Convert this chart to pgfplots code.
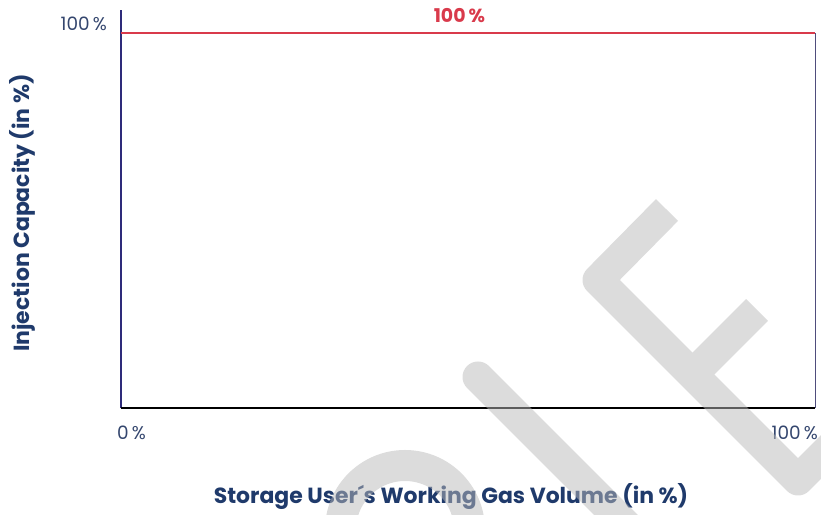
\documentclass[border=0pt]{standalone}
\usepackage{fontspec}
\setmainfont{Poppins}
\usepackage{pgfplots}
\pgfplotsset{compat=1.18}
\definecolor{navy}{HTML}{1F3A6B}
\definecolor{ticknavy}{HTML}{34466E}
\definecolor{redline}{HTML}{D93A4B}
\definecolor{axnavy}{HTML}{2E2B7A}
\definecolor{wm}{HTML}{B9B9B9}
\begin{document}
\begin{tikzpicture}[x=1bp,y=1bp]
\useasboundingbox (0,0) rectangle (821,515);
\begin{axis}[
  at={(121bp,107bp)}, anchor=south west,
  scale only axis, width=694bp, height=398bp,
  xmin=0, xmax=100, ymin=0, ymax=106.13,
  hide axis, clip=false,
]
\draw[axnavy, line width=1.8bp] (axis cs:0,0) -- (axis cs:0,106.13);
\draw[axnavy!60!gray, line width=1bp] (axis cs:100,0) -- (axis cs:100,100);
\addplot[redline, line width=2.8bp] coordinates {(0,100) (100,100)};
\draw[black, line width=1.8bp] (axis cs:0,0) -- (axis cs:100,0);
\end{axis}
% labels
\node[inner sep=0, text=redline, font=\fontsize{19}{22}\selectfont\bfseries] at (459.5,499) {100\,\%};
\node[inner sep=0, anchor=east, text=ticknavy, font=\fontsize{18.5}{22}\selectfont] at (107,491) {100\,\%};
\node[inner sep=0, anchor=west, text=ticknavy, font=\fontsize{18.5}{22}\selectfont] at (117,82) {0\,\%};
\node[inner sep=0, anchor=east, text=ticknavy, font=\fontsize{18.5}{22}\selectfont] at (818,82) {100\,\%};
\node[inner sep=0, rotate=90, text=navy, font=\fontsize{22}{26}\selectfont\bfseries] at (22,302) {Injection Capacity (in \%)};
\node[inner sep=0, text=navy, font=\fontsize{22}{26}\selectfont\bfseries] at (451,18) {Storage User´s Working Gas Volume (in \%)};
% watermark
\begin{scope}[transparency group, opacity=0.5]
\clip (0,0) rectangle (821,515);
\draw[wm, line width=31bp, line cap=round] (469.5,-15) arc[start angle=0, end angle=180, radius=64.5];
\draw[wm, line width=31bp, line cap=round] (478,138) -- (660,-44);
\draw[wm, line width=31bp, line join=round, line cap=butt] (667,305) -- (598,235) -- (798,35) -- (880,117);
\draw[wm, line width=31bp, line cap=butt] (691,139) -- (757,205);
\end{scope}
\end{tikzpicture}
\end{document}
